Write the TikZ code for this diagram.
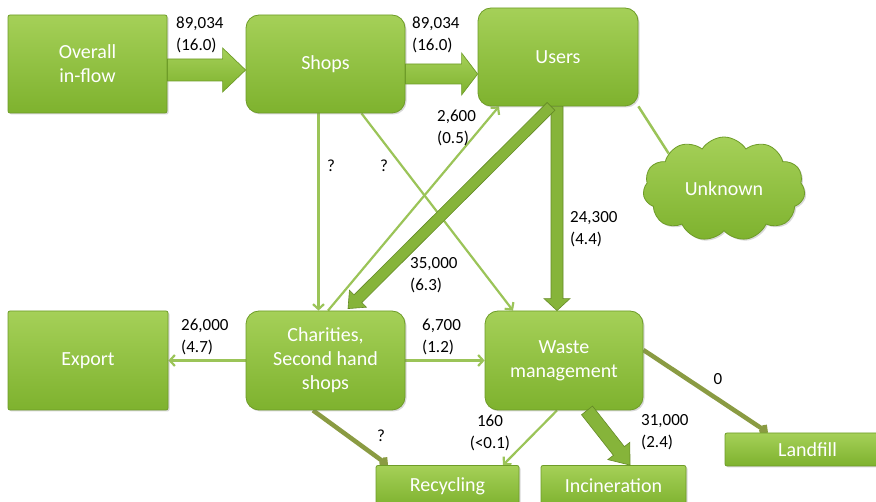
\documentclass[tikz,border=0pt]{standalone}
\usepackage{fontspec}
\setmainfont{Carlito}
\usetikzlibrary{arrows.meta,calc,shapes.symbols,shadows}
\pgfdeclarelayer{background}
\pgfsetlayers{background,main}

\definecolor{boxtop}{RGB}{165,208,88}
\definecolor{boxbot}{RGB}{126,178,46}
\definecolor{boxline}{RGB}{110,156,40}
\definecolor{thinc}{RGB}{155,196,88}
\definecolor{thickf}{RGB}{134,180,58}
\definecolor{thickd}{RGB}{100,138,38}
\definecolor{olivec}{RGB}{138,155,66}

\newcommand\blockarr[6]{% style, from, to, half shaft, half head, head length
  \coordinate (ba-h) at ($(#3)!#6!(#2)$);
  \path[#1] ($(#2)!#4!90:(#3)$) -- ($(ba-h)!#4!90:(#3)$) -- ($(ba-h)!#5!90:(#3)$)
    -- (#3) -- ($(ba-h)!#5!-90:(#3)$) -- ($(ba-h)!#4!-90:(#3)$) -- ($(#2)!#4!-90:(#3)$) -- cycle;
}

\tikzset{
  box/.style={draw=boxline, line width=0.8pt, top color=boxtop, bottom color=boxbot,
    text=white, font=\fontsize{20}{24}\selectfont, align=center, inner sep=0pt,
    drop shadow={opacity=0.3, shadow xshift=1.5pt, shadow yshift=-1.5pt}},
  rbox/.style={box, rounded corners=13pt},
  sbox/.style={box, rounded corners=2pt},
  lab/.style={font=\fontsize{17}{21.5}\selectfont, align=left, inner sep=0pt, text=black},
  thinarr/.style={draw=thinc, line width=2.2pt, -{Straight Barb[length=5pt,width=11pt]}},
  oliarr/.style={draw=olivec, line width=4.5pt, -{Straight Barb[length=4pt,width=9pt]}},
  thickarr/.style={fill=thickf, draw=thickd, line width=0.6pt},
  fatarr/.style={top color=boxtop, bottom color=boxbot, draw=boxline, line width=0.7pt}
}

\begin{document}
\begin{tikzpicture}[x=1pt,y=-1pt]
\useasboundingbox (0,0) rectangle (876,502);

% nodes
\node[sbox, minimum width=159pt, minimum height=98pt] (overall) at (87.5,64) {Overall\\in-flow};
\node[rbox, minimum width=159pt, minimum height=98pt] (shops) at (325.5,64) {Shops};
\node[rbox, minimum width=160pt, minimum height=98pt] (users) at (558,57) {Users};
\node[sbox, minimum width=160pt, minimum height=99pt] (export) at (88,360.5) {Export};
\node[rbox, minimum width=159pt, minimum height=99pt] (char) at (325.5,360.5) {Charities,\\Second hand\\shops};
\node[rbox, minimum width=158pt, minimum height=99pt] (waste) at (564,360.5) {Waste\\management};
\node[sbox, minimum width=143pt, minimum height=41pt] (recyc) at (447.5,486) {Recycling};
\node[sbox, minimum width=145pt, minimum height=41pt] (incin) at (613.5,486) {Incineration};
\node[sbox, minimum width=165pt, minimum height=33pt] (landfill) at (807.5,449.5) {Landfill};
\node[box, cloud, cloud puffs=11, cloud puff arc=115, aspect=1.6,
      minimum width=162pt, minimum height=104pt] (unknown) at (724,189) {Unknown};

% connectors
\begin{pgfonlayer}{background}
\fill[white] (0,0) rectangle (876,502);
\draw[draw=thinc, line width=2.5pt] (users.south east) -- (unknown.north west);
\draw[thinarr] ([xshift=-7pt]shops.south) -- ([xshift=-7pt]char.north);
\draw[thinarr] ([xshift=36pt]shops.south) -- ([xshift=-51pt]waste.north);
\draw[thinarr] ([xshift=2.5pt]char.north) -- ([xshift=-59pt]users.south);
\draw[thinarr] (char.west) -- (export.east);
\draw[thinarr] (char.east) -- (waste.west);
\draw[thinarr] ([xshift=-7pt]waste.south) -- ([xshift=55.5pt]recyc.north);
\draw[oliarr] ([xshift=-12.5pt]char.south) -- ([xshift=-59.5pt]recyc.north);
\draw[oliarr] ([yshift=10.5pt]waste.east) -- ([xshift=-39.5pt]landfill.north);
\end{pgfonlayer}

\coordinate (a1s) at ([yshift=-6pt]overall.east);
\coordinate (a1e) at ([yshift=-6pt]shops.west);
\blockarr{fatarr}{a1s}{a1e}{11pt}{22pt}{23pt}
\coordinate (a2s) at ([yshift=-10pt]shops.east);
\coordinate (a2e) at ([yshift=-17pt]users.west);
\blockarr{fatarr}{a2s}{a2e}{10pt}{21pt}{16pt}
\coordinate (a3s) at ([xshift=-1pt]users.south);
\coordinate (a3e) at ([xshift=-7pt]waste.north);
\blockarr{thickarr}{a3s}{a3e}{6pt}{13pt}{12pt}
\coordinate (a4s) at ([xshift=-7pt]users.south);
\coordinate (a4e) at ([xshift=22.5pt,yshift=2pt]char.north);
\blockarr{thickarr}{a4s}{a4e}{5.5pt}{12pt}{14pt}
\coordinate (a5s) at ([xshift=23pt]waste.south);
\coordinate (a5e) at ([xshift=16.5pt]incin.north);
\blockarr{thickarr}{a5s}{a5e}{7pt}{14pt}{18pt}

% labels
\node[lab, anchor=west] (l1) at (176,35) {89,034\\(16.0)};
\node[lab, anchor=west] (l2) at (412,35) {89,034\\(16.0)};
\node[lab, anchor=west] (l3) at (437,128) {2,600\\(0.5)};
\node[lab] (l4) at (331,166) {?};
\node[lab] (l5) at (384,166) {?};
\node[lab, anchor=west] (l6) at (570,229) {24,300\\(4.4)};
\node[lab, anchor=west] (l7) at (410,275) {35,000\\(6.3)};
\node[lab, anchor=west] (l8) at (181,337) {26,000\\(4.7)};
\node[lab, anchor=west] (l9) at (422,337) {6,700\\(1.2)};
\node[lab] (l10) at (718,379) {0};
\node[lab] (l11) at (381,436) {?};
\node[lab, align=center] (l12) at (490,433) {160\\(<0.1)};
\node[lab, anchor=west] (l13) at (641,432) {31,000\\(2.4)};
\end{tikzpicture}
\end{document}
